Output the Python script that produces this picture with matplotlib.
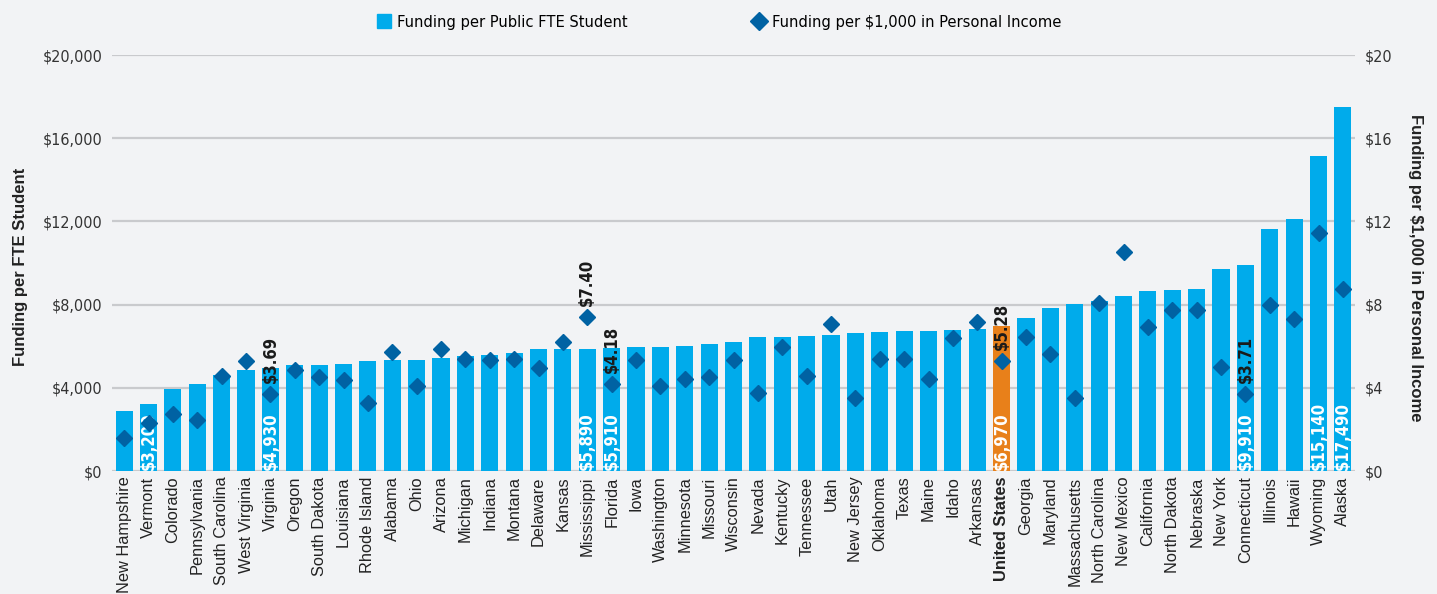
import numpy as np
import matplotlib
matplotlib.use("Agg")
import matplotlib.pyplot as plt
from matplotlib.lines import Line2D

states = ["New Hampshire", "Vermont", "Colorado", "Pennsylvania", "South Carolina",
          "West Virginia", "Virginia", "Oregon", "South Dakota", "Louisiana",
          "Rhode Island", "Alabama", "Ohio", "Arizona", "Michigan", "Indiana",
          "Montana", "Delaware", "Kansas", "Mississippi", "Florida", "Iowa",
          "Washington", "Minnesota", "Missouri", "Wisconsin", "Nevada", "Kentucky",
          "Tennessee", "Utah", "New Jersey", "Oklahoma", "Texas", "Maine", "Idaho",
          "Arkansas", "United States", "Georgia", "Maryland", "Massachusetts",
          "North Carolina", "New Mexico", "California", "North Dakota", "Nebraska",
          "New York", "Connecticut", "Illinois", "Hawaii", "Wyoming", "Alaska"]

per_fte = [2880, 3200, 3940, 4180, 4610, 4850, 4930, 5090, 5090, 5140,
           5280, 5330, 5330, 5430, 5510, 5570, 5670, 5860, 5870, 5890,
           5910, 5960, 5960, 6010, 6090, 6220, 6420, 6460, 6510, 6520,
           6660, 6700, 6710, 6750, 6800, 6850, 6970, 7380, 7860, 8050,
           8180, 8430, 8670, 8720, 8770, 9730, 9910, 11640, 12120, 15140, 17490]

per_income = [1.59, 2.31, 2.75, 2.46, 4.59, 5.30, 3.69, 4.85, 4.50, 4.38,
              3.28, 5.73, 4.11, 5.85, 5.40, 5.33, 5.40, 4.95, 6.20, 7.40,
              4.18, 5.32, 4.11, 4.43, 4.50, 5.36, 3.73, 5.95, 4.56, 7.07,
              3.50, 5.38, 5.39, 4.43, 6.40, 7.15, 5.28, 6.45, 5.63, 3.49,
              8.08, 10.55, 6.91, 7.76, 7.76, 5.02, 3.71, 7.98, 7.30, 11.43, 8.75]

bar_labeled = ["Vermont", "Virginia", "Mississippi", "Florida", "United States",
               "Connecticut", "Wyoming", "Alaska"]
dot_labeled = ["Virginia", "Mississippi", "Florida", "United States", "Connecticut"]

left_ticks = [0, 4000, 8000, 12000, 16000, 20000]
right_ticks = [0, 4, 8, 12, 16, 20]

BLUE = "#00ABEB"
ORANGE = "#E8801A"
DARK = "#0062A3"
BG = "#F2F3F5"
GRID = "#C9CACD"
NARROW = dict(family="DejaVu Sans", stretch="condensed")
ARIAL = ["Liberation Sans", "DejaVu Sans"]

fig = plt.figure(figsize=(14.37, 5.94), dpi=100, facecolor=BG)
ax = fig.add_axes([0.0779, 0.207, 0.8651, 0.7004], facecolor=BG)
ax2 = ax.twinx()

x = np.arange(len(states))
colors = [ORANGE if s == "United States" else BLUE for s in states]
ax.bar(x, per_fte, width=0.7, color=colors, zorder=2)
ax2.plot(x, per_income, linestyle="none", marker="D", markersize=8.5,
         color=DARK, zorder=3)

ax.set_xlim(-0.5, len(states) - 0.5)
ax.set_ylim(0, 20000)
ax2.set_ylim(0, 20)
ax.set_yticks(left_ticks)
ax.set_yticklabels([f"${v:,.0f}" for v in left_ticks], fontsize=11.5,
                   color="#333333", **NARROW)
ax2.set_yticks(right_ticks)
ax2.set_yticklabels([f"${v}" for v in right_ticks], fontsize=11.5,
                    color="#333333", **NARROW)
ax.tick_params(axis="y", length=0, pad=7)
ax2.tick_params(axis="y", length=0, pad=7)
ax.set_xticks(x)
ax.set_xticklabels(states, rotation=90, family=ARIAL, fontsize=11.8, color="#222222")
ax.tick_params(axis="x", length=0, pad=4)
for lab in ax.get_xticklabels():
    if lab.get_text() == "United States":
        lab.set_fontweight("bold")

ax.grid(axis="y", color=GRID, linewidth=1.6, zorder=0)
ax.set_axisbelow(True)
for a in (ax, ax2):
    for sp in a.spines.values():
        sp.set_visible(False)

for i, s in enumerate(states):
    if s in bar_labeled:
        ax.annotate(f"${per_fte[i]:,.0f}", (i, 0), xytext=(0, 1), textcoords="offset points",
                    rotation=90, ha="center", va="bottom", color="white",
                    fontweight="bold", fontsize=12, zorder=4, **NARROW)
    if s in dot_labeled:
        ax2.annotate(f"${per_income[i]:.2f}", (i, per_income[i]), xytext=(0, 8),
                     textcoords="offset points", rotation=90, ha="center", va="bottom",
                     color="#1a1a1a", fontweight="bold", fontsize=12, zorder=4, **NARROW)

fig.text(0.014, 0.55, "Funding per FTE Student", rotation=90, ha="center", va="center",
         fontweight="bold", family=ARIAL, fontsize=12, color="#222222")
fig.text(0.985, 0.55, "Funding per $1,000 in Personal Income", rotation=270, ha="center",
         va="center", fontweight="bold", family=ARIAL, fontsize=12, color="#222222")

handles = [Line2D([], [], linestyle="none", marker="s", markersize=10, color=BLUE),
           Line2D([], [], linestyle="none", marker="D", markersize=9, color=DARK)]
fig.legend(handles, ["Funding per Public FTE Student", "Funding per $1,000 in Personal Income"],
           loc="center", bbox_to_anchor=(0.5, 0.962), ncol=2, frameon=False,
           prop=dict(size=11.8, **NARROW), handletextpad=0.3, columnspacing=7.5,
           handlelength=1.0)

fig.savefig("out.png", dpi=100, facecolor=BG)
